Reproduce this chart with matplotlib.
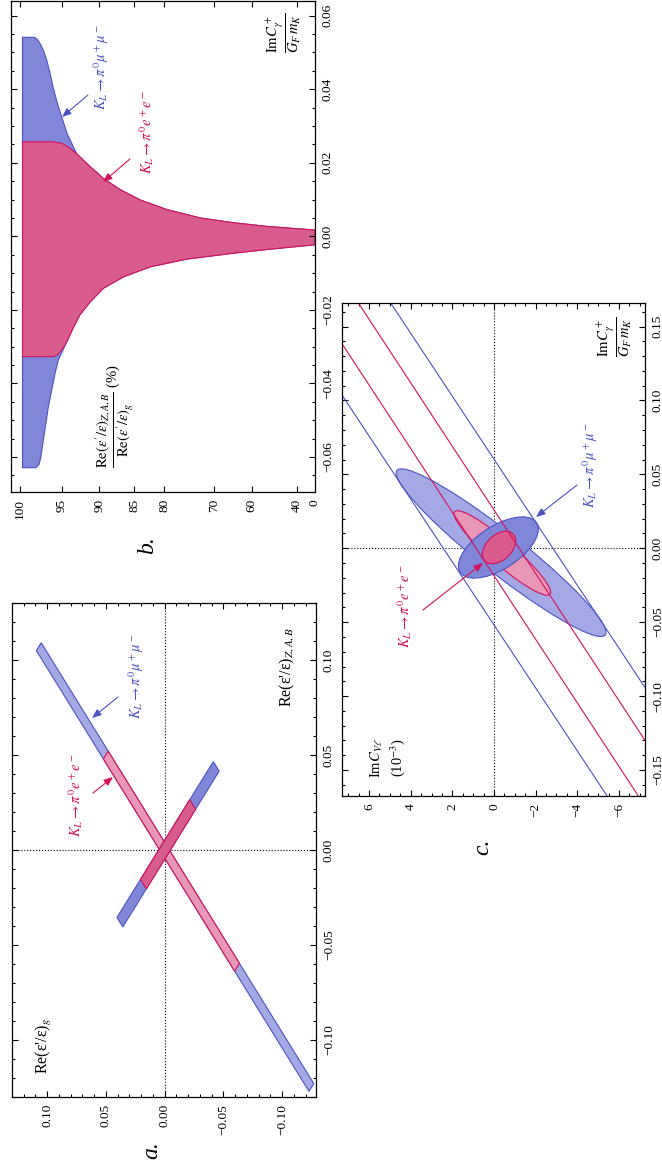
#!/usr/bin/env python3
"""
Three-panel figure (a, b, c) on Re(eps'/eps) and the K_L -> pi0 l+ l- constraints,
drawn in the rotated (portrait) layout of the page.
"""

import numpy as np
import matplotlib
matplotlib.use('Agg')
import matplotlib.pyplot as plt
from matplotlib.patches import Polygon, Ellipse
from matplotlib.transforms import Affine2D
from matplotlib.ticker import FixedLocator, MultipleLocator, NullLocator, FuncFormatter

plt.rcParams['font.family'] = ['Liberation Serif', 'DejaVu Serif']
plt.rcParams['mathtext.fontset'] = 'stix'

W, H = 662, 1169

BLUE_LIGHT = '#a4a9e6'
BLUE_DARK = '#8087d9'
PINK_LIGHT = '#e897b7'
PINK_DARK = '#d85c8d'
BLUE_LINE = '#4c52c2'
PINK_LINE = '#d4105c'

# ---- panel a: bands in the (Re(e'/e)_g, Re(e'/e)_{Z,A,B}) plane ----
# extent of the centre line, given as the Re(e'/e)_{Z,A,B} value
long_mumu = [-0.125, 0.107]      # Re_ZAB = +Re_g
long_ee = [-0.0617, 0.050]
short_mumu = [-0.038, 0.044]     # Re_ZAB = -Re_g
short_ee = [-0.018, 0.024]

# ---- panel b: ratio Re_ZAB/Re_g (%) against ImC_gamma+/(G_F m_K) ----
ratio_max = 99.7
mumu_top, mumu_bot = 0.0541, -0.0629
ee_top, ee_bot = 0.0257, -0.0327
env_up_c = [0.0257, 0.0253, 0.0243, 0.0224, 0.0189, 0.0157, 0.0127, 0.0099,
            0.0073, 0.0050, 0.0037, 0.0027, 0.0017]
env_up_r = [96.2, 95.0, 94.1, 93.0, 91.2, 89.4, 87.0, 84.0,
            79.5, 72.8, 64.9, 53.3, 0.0]
env_lo_c = [-0.0023, -0.0034, -0.0046, -0.0062, -0.0083, -0.0110, -0.0141,
            -0.0178, -0.0214, -0.0250, -0.0277, -0.0304, -0.0322, -0.0327]
env_lo_r = [0.0, 50.4, 64.9, 75.5, 82.3, 86.5, 89.4,
            91.2, 92.6, 93.5, 94.1, 94.8, 95.5, 96.0]
mumu_up_c = [0.0541, 0.0537, 0.0528, 0.0506, 0.0479, 0.0443, 0.0402, 0.0352, 0.0325, 0.0280]
mumu_up_r = [98.3, 98.0, 97.7, 97.2, 96.8, 96.4, 96.0, 95.4, 95.0, 94.3]
mumu_lo_c = [-0.0336, -0.0372, -0.0418, -0.0463, -0.0508, -0.0553, -0.0599, -0.0619, -0.0629]
mumu_lo_r = [95.4, 95.8, 96.2, 96.6, 96.9, 97.2, 97.5, 97.7, 98.1]
ratio_ticks = [100, 95, 90, 85, 80, 70, 60, 40, 0]

# ---- panel c: ImC_Vl (1e-3) against ImC_gamma+/(G_F m_K) ----
mumu_slope, mumu_icpt = 0.0213, [0.0602, -0.0519]
ee_slope, ee_icpt = 0.0215, [0.0259, -0.0186]
# ellipses: centre ImC_Vl, centre ImC_gamma, half extent ImC_Vl, half extent ImC_gamma, correlation
ell_mumu_wide = (-0.34, -0.0030, 5.04, 0.0567, 0.95)
ell_ee_wide = (-0.40, -0.0032, 2.32, 0.0286, 0.93)
ell_mumu_narrow = (-0.21, 0.0005, 1.92, 0.0207, -0.60)
ell_ee_narrow = (-0.24, 0.0005, 0.80, 0.0110, -0.41)


def fp(x, y):
    """image pixel (from top-left) -> figure fraction"""
    return x / W, 1 - y / H


def box(x0, y0, x1, y1):
    return [x0 / W, 1 - y1 / H, (x1 - x0) / W, (y1 - y0) / H]


def num(fmt):
    def f(v, pos):
        if abs(v) < 1e-9:
            v = 0.0
        return (fmt % v).replace('-', '\u2212')
    return FuncFormatter(f)


def frame(ax):
    for s in ax.spines.values():
        s.set_linewidth(0.9)
    ax.tick_params(which='both', direction='in', top=True, bottom=True,
                   left=True, right=True, labelleft=False, labelright=True,
                   labelsize=9.5, pad=5, width=0.8)
    ax.tick_params(which='major', length=4)
    ax.tick_params(which='minor', length=2.2)
    ax.tick_params(axis='x', labelrotation=90)
    ax.tick_params(axis='y', labelrotation=90)
    for lab in ax.get_yticklabels():
        lab.set_va('center')
        lab.set_ha('left')


def band(ax, ext, direction, half, face, edge, z):
    d = np.array(direction)
    n = np.array(half)
    a, b = ext[0] * d, ext[1] * d
    ax.add_patch(Polygon([a + n, b + n, b - n, a - n], closed=True, facecolor=face,
                         edgecolor=edge, lw=0.8, zorder=z))


def ellipse(ax, pars, face, edge, z):
    y0, x0, dy, dx, rho = pars
    m = Affine2D(np.array([[dy, 0.0, y0],
                           [rho * dx, dx * np.sqrt(1 - rho ** 2), x0],
                           [0.0, 0.0, 1.0]]))
    ax.add_patch(Ellipse((0, 0), 2, 2, transform=m + ax.transData, facecolor=face,
                         edgecolor=edge, lw=0.8, zorder=z))


def label(txt, x, y, **kw):
    kw.setdefault('size', 10.5)
    fig.text(*fp(x, y), txt, rotation=90, ha='center', va='center', **kw)


def arrow(ax, tail, head, color):
    ax.annotate('', xy=fp(*head), xycoords='figure fraction', xytext=fp(*tail),
                textcoords='figure fraction',
                arrowprops=dict(arrowstyle='-|>,head_length=0.55,head_width=0.22',
                                color=color, lw=0.8, shrinkA=0, shrinkB=0))


fig = plt.figure(figsize=(W / 100, H / 100), dpi=100)

# ================= panel a =================
axa = fig.add_axes(box(12, 603, 316, 1097))
axa.set_xlim(0.1298, -0.1289)
axa.set_ylim(-0.13, 0.13)
axa.axvline(0, color='k', ls=':', lw=0.8, zorder=0.5)
axa.axhline(0, color='k', ls=':', lw=0.8, zorder=0.5)
band(axa, long_mumu, (1, 1), (0.00205, -0.00205), BLUE_LIGHT, BLUE_LINE, 1)
band(axa, long_ee, (1, 1), (0.00205, -0.00205), PINK_LIGHT, PINK_LINE, 1.1)
band(axa, short_mumu, (-1, 1), (0.0025, 0.0025), BLUE_DARK, BLUE_LINE, 1.2)
band(axa, short_ee, (-1, 1), (0.0025, 0.0025), PINK_DARK, PINK_LINE, 1.3)
for axis in (axa.xaxis, axa.yaxis):
    axis.set_major_locator(MultipleLocator(0.05))
    axis.set_minor_locator(MultipleLocator(0.01))
    axis.set_major_formatter(num('%.2f'))
frame(axa)
label(r"Re(ε'/ε)$_{Z,A,B}$", 287, 667, size=11.5)
label(r"Re(ε'/ε)$_g$", 44, 1046, size=11.5)
label(r"$K_L\rightarrow\pi^0\mu^+\mu^-$", 136, 676, color=BLUE_LINE)
label(r"$K_L\rightarrow\pi^0e^+e^-$", 76, 795, color=PINK_LINE)
arrow(axa, (118, 697), (92, 718), BLUE_LINE)
arrow(axa, (93, 793), (113, 777), PINK_LINE)
label('a.', 152, 1150, size=17, style='italic')

# ================= panel b =================
scale_r = [-50, 0, 40, 60, 70, 80, 85, 90, 95, 100, 150]
scale_u = [-22.9, 0, 18.3, 63.3, 101, 151, 181, 215.7, 253.3, 295, 705]
axb = fig.add_axes(box(11, 0.5, 315, 492))
axb.set_xscale('function', functions=(lambda r: np.interp(r, scale_r, scale_u),
                                      lambda u: np.interp(u, scale_u, scale_r)))
axb.set_xlim(101.1, 0)
axb.set_ylim(-0.0695, 0.0641)

ee_poly = ([(ratio_max, ee_top)] + list(zip(env_up_r, env_up_c))
           + list(zip(env_lo_r, env_lo_c)) + [(ratio_max, ee_bot)])
mumu_poly = ([(ratio_max, mumu_top)] + list(zip(mumu_up_r, mumu_up_c))
             + list(zip(env_up_r[3:], env_up_c[3:])) + list(zip(env_lo_r[:11], env_lo_c[:11]))
             + list(zip(mumu_lo_r, mumu_lo_c)) + [(ratio_max, mumu_bot)])
axb.add_patch(Polygon(mumu_poly, closed=True, facecolor=BLUE_DARK, edgecolor=BLUE_LINE,
                      lw=0.8, joinstyle='round'))
axb.add_patch(Polygon(ee_poly, closed=True, facecolor=PINK_DARK, edgecolor=PINK_LINE,
                      lw=0.8, joinstyle='round'))

axb.xaxis.set_major_locator(FixedLocator(ratio_ticks))
axb.xaxis.set_minor_locator(NullLocator())
axb.xaxis.set_major_formatter(num('%.0f'))
axb.yaxis.set_major_locator(MultipleLocator(0.02))
axb.yaxis.set_minor_locator(MultipleLocator(0.005))
axb.yaxis.set_major_formatter(num('%.2f'))
frame(axb)
label(r"$\dfrac{\mathrm{Im}C_\gamma^+}{G_F\,m_K}$", 284, 33)
label(r"$K_L\rightarrow\pi^0\mu^+\mu^-$", 101, 67, color=BLUE_LINE)
label(r"$K_L\rightarrow\pi^0e^+e^-$", 147, 132, color=PINK_LINE)
arrow(axb, (88, 95), (62, 117), BLUE_LINE)
arrow(axb, (130, 159), (103, 182), PINK_LINE)
label(r"$\dfrac{\mathrm{Re}(\varepsilon'/\varepsilon)_{Z,A,B}}{\mathrm{Re}(\varepsilon'/\varepsilon)_g}$ (%)",
      114, 416)
label('b.', 148, 545, size=17, style='italic')

# ================= panel c =================
axc = fig.add_axes(box(342, 303, 645, 796))
axc.set_xlim(7.30, -7.25)
axc.set_ylim(-0.1676, 0.1659)
axc.axvline(0, color='k', ls=':', lw=0.8, zorder=0.5)
axc.axhline(0, color='k', ls=':', lw=0.8, zorder=0.5)
ellipse(axc, ell_mumu_wide, BLUE_LIGHT, BLUE_LINE, 1)
ellipse(axc, ell_ee_wide, PINK_LIGHT, PINK_LINE, 1.1)
ellipse(axc, ell_mumu_narrow, BLUE_DARK, BLUE_LINE, 1.2)
ellipse(axc, ell_ee_narrow, PINK_DARK, PINK_LINE, 1.3)
for c in mumu_icpt:
    axc.axline((0, c), slope=mumu_slope, color=BLUE_LINE, lw=0.8, zorder=2)
for c in ee_icpt:
    axc.axline((0, c), slope=ee_slope, color=PINK_LINE, lw=0.8, zorder=2)
axc.xaxis.set_major_locator(MultipleLocator(2))
axc.xaxis.set_minor_locator(MultipleLocator(0.5))
axc.xaxis.set_major_formatter(num('%.0f'))
axc.yaxis.set_major_locator(MultipleLocator(0.05))
axc.yaxis.set_minor_locator(MultipleLocator(0.01))
axc.yaxis.set_major_formatter(num('%.2f'))
frame(axc)
label(r"$\dfrac{\mathrm{Im}C_\gamma^+}{G_F\,m_K}$", 615, 337)
label(r"$K_L\rightarrow\pi^0\mu^+\mu^-$", 590, 465, color=BLUE_LINE)
label(r"$K_L\rightarrow\pi^0e^+e^-$", 405, 606, color=PINK_LINE)
arrow(axc, (577, 485), (536, 517), BLUE_LINE)
arrow(axc, (423, 610), (483, 563), PINK_LINE)
label("Im$C_{V\\ell}$\n(10$^{-3}$)", 388, 758, multialignment='center')
label('c.', 483, 847, size=17, style='italic')

fig.savefig('out.png', dpi=100)
